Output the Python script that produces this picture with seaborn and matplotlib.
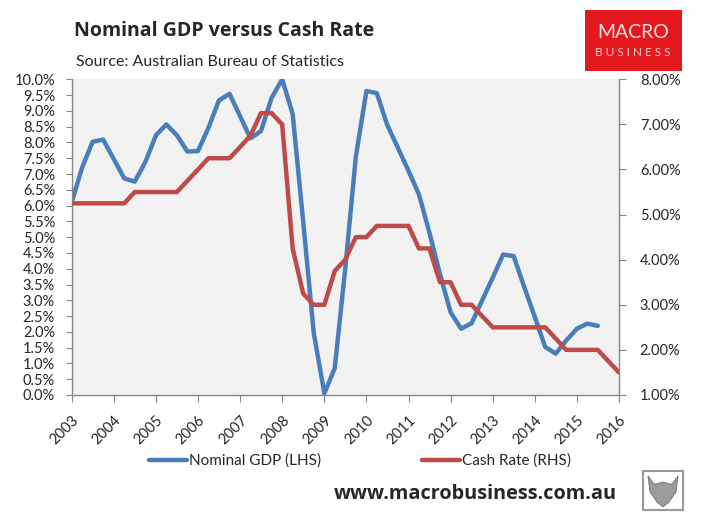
import numpy as np
import pandas as pd
import matplotlib
matplotlib.use('Agg')
import matplotlib.pyplot as plt
import matplotlib.dates as mdates
import matplotlib.transforms as mtransforms
from matplotlib.patches import Rectangle, Polygon
from matplotlib.lines import Line2D
import seaborn as sns

# quarterly data, 2003Q1 .. 2016Q1
quarters = pd.date_range('2003-01-01', '2016-01-01', freq='QS')

# nominal GDP growth, % y/y (LHS)
gdp = [6.1, 7.2, 8.02, 8.09, 7.47, 6.86, 6.76, 7.38, 8.23, 8.57,
       8.23, 7.71, 7.73, 8.46, 9.33, 9.54, 8.83, 8.13, 8.36, 9.41,
       10.0, 8.9, 5.5, 1.96, 0.05, 0.85, 4.0, 7.55, 9.63, 9.56,
       8.55, 7.83, 7.1, 6.36, 5.15, 3.83, 2.62, 2.1, 2.27, 3.0,
       3.72, 4.45, 4.4, 3.42, 2.47, 1.52, 1.31, 1.73, 2.1, 2.26,
       2.19]

# RBA cash rate, % (RHS)
cash = [5.25, 5.25, 5.25, 5.25, 5.25, 5.25, 5.5, 5.5, 5.5, 5.5,
        5.5, 5.75, 6.0, 6.25, 6.25, 6.25, 6.5, 6.75, 7.25, 7.25,
        7.0, 4.25, 3.25, 3.0, 3.0, 3.75, 4.0, 4.5, 4.5, 4.75,
        4.75, 4.75, 4.75, 4.25, 4.25, 3.5, 3.5, 3.0, 3.0, 2.75,
        2.5, 2.5, 2.5, 2.5, 2.5, 2.5, 2.25, 2.0, 2.0, 2.0,
        2.0, 1.75, 1.5]

left_ticks = np.arange(0, 10.01, 0.5)
right_ticks = np.arange(1, 8.01, 1)

blue = '#4a7ebb'
red = '#be4b48'
grey = '#868686'

sns.set_style('white')
plt.rcParams['font.family'] = ['Lato', 'DejaVu Sans']

fig = plt.figure(figsize=(7.01, 5.22), dpi=100)
ax = fig.add_axes([0.1023, 0.2433, 0.7807, 0.6048])
ax.set_facecolor('#f2f2f2')

sns.lineplot(x=quarters[:len(gdp)], y=gdp, ax=ax, color=blue, linewidth=3.2,
             legend=False)
ax2 = ax.twinx()
sns.lineplot(x=quarters, y=cash, ax=ax2, color=red, linewidth=3.2, legend=False)

ax.set_xlim(quarters[0], quarters[-1])
ax.set_ylim(0, 10)
ax2.set_ylim(1, 8)
ax.set_yticks(left_ticks)
ax.set_yticklabels(['%.1f%%' % v for v in left_ticks])
ax2.set_yticks(right_ticks)
ax2.set_yticklabels(['%.2f%%' % v for v in right_ticks])

ax.xaxis.set_major_locator(mdates.YearLocator())
ax.xaxis.set_major_formatter(mdates.DateFormatter('%Y'))
shift = mtransforms.ScaledTranslation(4 / 72, 0, fig.dpi_scale_trans)
for lab in ax.get_xticklabels():
    lab.set_rotation(45)
    lab.set_ha('right')
    lab.set_rotation_mode('anchor')
    lab.set_transform(lab.get_transform() + shift)

for a in (ax, ax2):
    a.set_xlabel('')
    a.set_ylabel('')
    a.grid(False)
    for s in a.spines.values():
        s.set_color(grey)
        s.set_linewidth(1)
    a.spines['top'].set_visible(False)
ax.spines['right'].set_visible(False)
ax2.spines['left'].set_visible(False)
ax2.spines['bottom'].set_visible(False)

ax.tick_params(axis='y', direction='out', length=4, color=grey, labelsize=10.5,
               pad=8, left=True)
ax.tick_params(axis='x', direction='out', length=5, color=grey, labelsize=10.5,
               pad=8, bottom=True)
ax2.tick_params(axis='y', direction='out', length=5, color=grey, labelsize=10.5,
                pad=10, right=True)

# titles
fig.text(74 / 701, 1 - 36 / 522, 'Nominal GDP versus Cash Rate', fontsize=14,
         weight='bold', va='baseline', family=['Open Sans', 'DejaVu Sans'])
fig.text(76 / 701, 1 - 66 / 522, 'Source: Australian Bureau of Statistics',
         fontsize=11.5, va='baseline')

# legend
handles = [Line2D([], [], color=blue, linewidth=3.2),
           Line2D([], [], color=red, linewidth=3.2)]
fig.legend(handles, ['Nominal GDP (LHS)', 'Cash Rate (RHS)'], loc='center',
           bbox_to_anchor=(360 / 701, 1 - 461 / 522), ncol=2, frameon=False,
           fontsize=11, handlelength=2.5, handletextpad=0.1,
           columnspacing=6.6)

# logo
fig.patches.append(Rectangle((585 / 701, 1 - 71 / 522), 97 / 701, 61 / 522,
                             transform=fig.transFigure, facecolor='#e3191f',
                             edgecolor='none'))
fig.text(633 / 701, 1 - 33 / 522, 'MACRO', color='#fbe3e3', fontsize=14,
         ha='center', va='center')
fig.text(633 / 701, 1 - 52 / 522, 'B U S I N E S S', color='#f6c8c8',
         fontsize=8.5, ha='center', va='center')

# website + wolf badge
fig.text(617 / 701, 1 - 494 / 522, 'www.macrobusiness.com.au', fontsize=14.3,
         weight='bold', ha='right', va='center',
         family=['Open Sans', 'DejaVu Sans'])
fig.patches.append(Rectangle((643 / 701, 1 - 510 / 522), 40 / 701, 39 / 522,
                             transform=fig.transFigure, facecolor='white',
                             edgecolor='#9a9a9a', linewidth=1.5))
head = [(648, 476), (654, 484), (656, 484), (663, 482), (670, 484), (672, 484),
        (678, 476), (676, 492), (669, 502), (663, 507), (657, 502), (650, 492)]
fig.patches.append(Polygon([(x / 701, 1 - y / 522) for x, y in head],
                           closed=True, transform=fig.transFigure,
                           facecolor='#9c9c9c', edgecolor='#6e6e6e',
                           linewidth=0.6))

fig.savefig('out.png', dpi=100)
